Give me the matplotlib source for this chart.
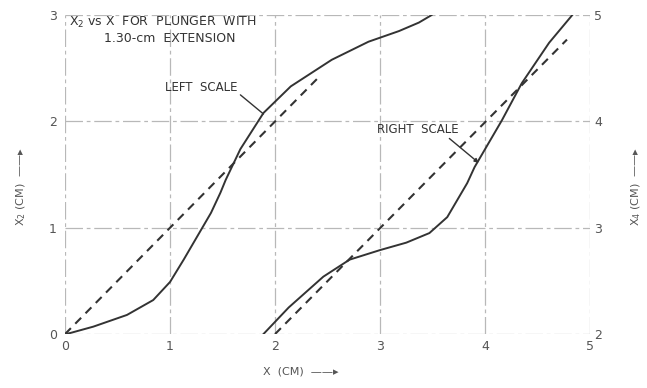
import matplotlib.pyplot as plt

# left scale curve (x2 vs x)
left_x = [0.0, 0.05, 0.27, 0.59, 0.84, 1.0, 1.13, 1.26, 1.39, 1.48, 1.53, 1.67, 1.89, 2.15, 2.54, 2.89, 3.18, 3.37, 3.49]
left_y = [0.0, 0.01, 0.07, 0.18, 0.32, 0.49, 0.70, 0.92, 1.14, 1.33, 1.45, 1.74, 2.08, 2.33, 2.58, 2.75, 2.85, 2.93, 3.0]
left_ref_x = [0.0, 2.40]
left_ref_y = [0.0, 2.40]

# right scale curve
right_x = [1.88, 2.13, 2.46, 2.71, 3.0, 3.25, 3.47, 3.64, 3.83, 3.90, 4.16, 4.35, 4.61, 4.83]
right_y = [1.99, 2.25, 2.54, 2.70, 2.79, 2.86, 2.95, 3.10, 3.42, 3.57, 4.01, 4.36, 4.74, 5.0]
right_ref_x = [2.0, 4.78]
right_ref_y = [2.0, 4.77]

x_ticks = [0, 1, 2, 3, 4, 5]
left_ticks = [0, 1, 2, 3]
right_ticks = [2, 3, 4, 5]

ink = '#333333'
grid_c = '#b8b8b8'
lbl_c = '#555555'

fig = plt.figure(figsize=(6.47, 3.88), dpi=100)
ax = fig.add_axes([0.1005, 0.139, 0.8115, 0.822])
ax2 = ax.twinx()

ax.set_xlim(0, 5)
ax.set_ylim(0, 3)
ax2.set_ylim(2, 5)

for a in (ax, ax2):
    for s in a.spines.values():
        s.set_visible(False)
    a.tick_params(length=0, colors=lbl_c, labelsize=9)

ax.set_xticks(x_ticks)
ax.set_yticks(left_ticks)
ax2.set_yticks(right_ticks)
ax.tick_params(axis='y', pad=6)
ax.tick_params(axis='x', pad=4)
ax2.tick_params(axis='y', pad=3)

ax.grid(True, color=grid_c, linestyle=(0, (14, 3, 3, 3)), linewidth=0.9)

ax.plot(left_x, left_y, color=ink, lw=1.4, solid_joinstyle='round')
ax.plot(left_ref_x, left_ref_y, color=ink, lw=1.5, linestyle=(0, (4, 3)))
ax2.plot(right_x, right_y, color=ink, lw=1.4, solid_joinstyle='round')
ax2.plot(right_ref_x, right_ref_y, color=ink, lw=1.5, linestyle=(0, (4, 3)))

ax.text(0.04, 2.93, 'X$_2$ vs X  FOR  PLUNGER  WITH', fontsize=9, color=ink, va='center', ha='left')
ax.text(1.0, 2.78, '1.30-cm  EXTENSION', fontsize=9, color=ink, va='center', ha='center')

# leader lines
ax.text(1.30, 2.32, 'LEFT  SCALE', fontsize=8.5, color=ink, ha='center', va='center')
ax.annotate('', xy=(1.89, 2.07), xytext=(1.67, 2.25),
            arrowprops=dict(arrowstyle='-', color=ink, lw=1.0, shrinkA=0, shrinkB=0))
ax2.text(3.36, 3.92, 'RIGHT  SCALE', fontsize=8.5, color=ink, ha='center', va='center')
ax2.annotate('', xy=(3.94, 3.61), xytext=(3.66, 3.84),
             arrowprops=dict(arrowstyle='-|>', color=ink, lw=1.0, shrinkA=0, shrinkB=0,
                             mutation_scale=6))

fig.text(0.465, 0.03, 'X  (CM)  \u2014\u2014\u25b8', fontsize=8, color=lbl_c, ha='center', va='bottom')
fig.text(0.032, 0.52, 'X$_2$ (CM)  \u2014\u2014\u25b8', fontsize=8, color=lbl_c, rotation=90,
         ha='center', va='center')
fig.text(0.983, 0.52, 'X$_4$ (CM)  \u2014\u2014\u25b8', fontsize=8, color=lbl_c, rotation=90,
         ha='center', va='center')

fig.savefig('out.png', dpi=100)
